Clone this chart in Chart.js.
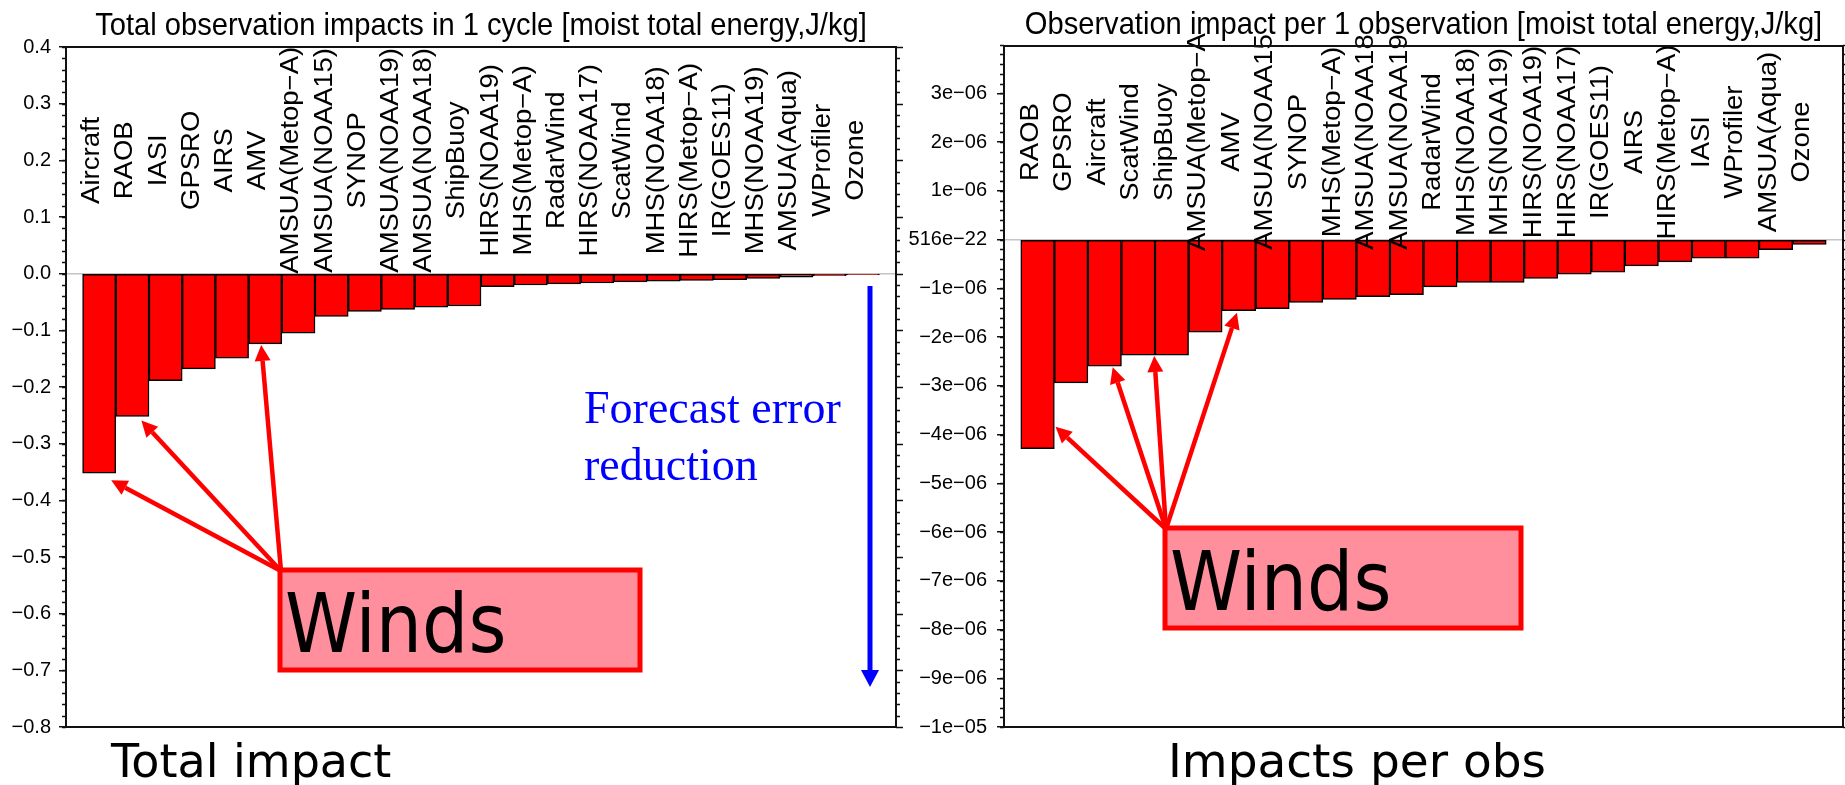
<!DOCTYPE html>
<html>
<head>
<meta charset="utf-8">
<title>Observation impacts</title>
<script src="https://cdn.jsdelivr.net/npm/chart.js@4.4.1/dist/chart.umd.min.js"></script>
<style>
  html, body { margin: 0; background: #fff; }
  #page { position: relative; width: 1845px; height: 785px; overflow: hidden; }
  canvas { position: absolute; top: 0; }
  #left { left: 0; }
  #right { left: 905px; }
</style>
</head>
<body>
<div id="page">
  <canvas id="left" width="905" height="785"></canvas>
  <canvas id="right" width="940" height="785"></canvas>
</div>
<script>
// total impact in 1 cycle
const totalNames = ["Aircraft", "RAOB", "IASI", "GPSRO", "AIRS", "AMV", "AMSUA(Metop-A)", "AMSUA(NOAA15)",
  "SYNOP", "AMSUA(NOAA19)", "AMSUA(NOAA18)", "ShipBuoy", "HIRS(NOAA19)", "MHS(Metop-A)", "RadarWind",
  "HIRS(NOAA17)", "ScatWind", "MHS(NOAA18)", "HIRS(Metop-A)", "IR(GOES11)", "MHS(NOAA19)", "AMSUA(Aqua)",
  "WProfiler", "Ozone"]
const totalImpact = [-0.352, -0.252, -0.189, -0.168, -0.149, -0.124, -0.105, -0.0755,
  -0.0667, -0.063, -0.059, -0.057, -0.023, -0.020, -0.018,
  -0.0165, -0.0145, -0.0133, -0.0118, -0.0108, -0.0086, -0.006,
  -0.0037, -0.0017]
const totalTicks = [0.4, 0.3, 0.2, 0.1, 0, -0.1, -0.2, -0.3, -0.4, -0.5, -0.6, -0.7, -0.8]
const totalTickLabels = ["0.4", "0.3", "0.2", "0.1", "0.0", "\u22120.1", "\u22120.2", "\u22120.3",
  "\u22120.4", "\u22120.5", "\u22120.6", "\u22120.7", "\u22120.8"]

// impact per 1 observation
const perObsNames = ["RAOB", "GPSRO", "Aircraft", "ScatWind", "ShipBuoy", "AMSUA(Metop-A", "AMV", "AMSUA(NOAA15",
  "SYNOP", "MHS(Metop-A)", "AMSUA(NOAA18", "AMSUA(NOAA19", "RadarWind", "MHS(NOAA18)", "MHS(NOAA19)",
  "HIRS(NOAA19)", "HIRS(NOAA17)", "IR(GOES11)", "AIRS", "HIRS(Metop-A)", "IASI", "WProfiler",
  "AMSUA(Aqua)", "Ozone"]
const perObsImpact = [-4.29e-6, -2.94e-6, -2.60e-6, -2.37e-6, -2.37e-6, -1.90e-6, -1.46e-6, -1.42e-6,
  -1.29e-6, -1.23e-6, -1.17e-6, -1.13e-6, -0.97e-6, -0.88e-6, -0.88e-6,
  -0.80e-6, -0.71e-6, -0.67e-6, -0.54e-6, -0.46e-6, -0.38e-6, -0.38e-6,
  -0.21e-6, -0.10e-6]
const perObsTicks = [3e-6, 2e-6, 1e-6, 0, -1e-6, -2e-6, -3e-6, -4e-6, -5e-6, -6e-6, -7e-6, -8e-6, -9e-6, -1e-5]
const perObsTickLabels = ["3e\u221206", "2e\u221206", "1e\u221206", "516e\u221222", "\u22121e\u221206",
  "\u22122e\u221206", "\u22123e\u221206", "\u22124e\u221206", "\u22125e\u221206", "\u22126e\u221206",
  "\u22127e\u221206", "\u22128e\u221206", "\u22129e\u221206", "\u22121e\u221205"]

const NCL_FONT = '"Liberation Sans", Arial, sans-serif'

function arrow(ctx, x0, y0, x1, y1, color, w, head, half) {
  const a = Math.atan2(y1 - y0, x1 - x0)
  const bx = x1 - head * Math.cos(a), by = y1 - head * Math.sin(a)
  ctx.strokeStyle = color
  ctx.fillStyle = color
  ctx.lineWidth = w
  ctx.beginPath()
  ctx.moveTo(x0, y0)
  ctx.lineTo(bx, by)
  ctx.stroke()
  ctx.beginPath()
  ctx.moveTo(x1, y1)
  ctx.lineTo(bx + half * Math.sin(a), by - half * Math.cos(a))
  ctx.lineTo(bx - half * Math.sin(a), by + half * Math.cos(a))
  ctx.closePath()
  ctx.fill()
}

function stretchedText(ctx, text, x, y, font, sx, align) {
  ctx.save()
  ctx.font = font
  ctx.textAlign = align || "left"
  ctx.translate(x, y)
  ctx.scale(sx, 1)
  ctx.fillText(text, 0, 0)
  ctx.restore()
}

// frame, minor ticks, bar names, title and the slide notes
const nclPlugin = {
  id: "ncl",
  afterDatasetsDraw(chart, args, o) {
    const { ctx, chartArea: a } = chart
    const x = chart.scales.x, y = chart.scales.y
    ctx.save()
    ctx.fillStyle = "#000"
    ctx.font = "25px " + NCL_FONT
    ctx.textAlign = "center"
    ctx.textBaseline = "alphabetic"
    o.names.forEach((name, i) => {
      ctx.save()
      ctx.translate(x.getPixelForValue(i + 1), y.getPixelForValue(o.labelY))
      ctx.rotate(-Math.PI / 2)
      ctx.scale(1.1, 1)
      ctx.fillText(name.replace("-", "\u2212"), 0, 0)
      ctx.restore()
    })

    ctx.strokeStyle = "#111"
    ctx.lineWidth = 1.5
    ctx.beginPath()
    const n = Math.round((o.yMax - o.yMin) / o.minorStep)
    for (let k = 0; k <= n; k++) {
      const py = Math.round(y.getPixelForValue(o.yMin + k * o.minorStep)) + 0.5
      ctx.moveTo(a.left - 4, py); ctx.lineTo(a.left, py)
      ctx.moveTo(a.right, py); ctx.lineTo(a.right + 4, py)
    }
    y.ticks.forEach(t => {
      const py = Math.round(y.getPixelForValue(t.value)) + 0.5
      ctx.moveTo(a.right, py); ctx.lineTo(a.right + 7, py)
    })
    ctx.stroke()
    ctx.lineWidth = 2
    ctx.strokeRect(a.left, a.top, a.right - a.left, a.bottom - a.top)
    ctx.restore()
  },
  afterDraw(chart, args, o) {
    const { ctx, chartArea: a } = chart
    const x = chart.scales.x, y = chart.scales.y
    const values = chart.data.datasets[0].data
    ctx.save()
    ctx.fillStyle = "#000"
    stretchedText(ctx, o.title, (a.left + a.right) / 2, a.top - 12, "32px " + NCL_FONT, 0.91, "center")

    const b = o.box
    ctx.fillStyle = "#ff8f9c"
    ctx.fillRect(b.x0, b.y0, b.x1 - b.x0, b.y1 - b.y0)
    ctx.strokeStyle = "#ff0000"
    ctx.lineWidth = 5
    ctx.strokeRect(b.x0, b.y0, b.x1 - b.x0, b.y1 - b.y0)
    o.arrows.forEach(ar => {
      const tx = x.getPixelForValue(ar.i + 1) + ar.dx
      const ty = y.getPixelForValue(values[ar.i].y) + ar.dy
      arrow(ctx, b.x0 + 1, b.y0 + 1, tx, ty, "#ff0000", 4.5, 16, 8)
    })
    ctx.fillStyle = "#000"
    stretchedText(ctx, "Winds", b.x0 + 5, b.y0 + 82, '82px "DejaVu Sans", Verdana, sans-serif', 0.89)
    ctx.font = o.caption.size + 'px "DejaVu Sans", Verdana, sans-serif'
    ctx.textAlign = "left"
    ctx.fillText(o.caption.text, o.caption.x, o.caption.y)

    if (o.note) {
      ctx.fillStyle = "#0000ff"
      ctx.font = '46px "Liberation Serif", "Times New Roman", serif'
      o.note.lines.forEach((line, i) => ctx.fillText(line, o.note.x, o.note.y + i * 57))
      const ar = o.note.arrow
      arrow(ctx, ar.x, ar.y0, ar.x, ar.y1, "#0000ff", 5, 17, 9)
    }
    ctx.restore()
  }
}

function makePanel(id, cfg) {
  return new Chart(document.getElementById(id), {
    type: "bar",
    data: {
      datasets: [{
        data: cfg.values.map((v, i) => ({ x: i + 1, y: v })),
        backgroundColor: "#ff0000",
        borderColor: "#000",
        borderWidth: 1.5,
        borderSkipped: false,
        barPercentage: 1,
        categoryPercentage: 1,
      }],
    },
    options: {
      responsive: false,
      animation: false,
      layout: { padding: cfg.padding },
      scales: {
        x: { type: "linear", min: 0, max: cfg.names.length + 1, offset: false, display: false },
        y: {
          min: cfg.yMin,
          max: cfg.yMax,
          afterFit: s => { s.width = cfg.axisWidth },
          afterBuildTicks: s => { s.ticks = cfg.ticks.map(v => ({ value: v })) },
          border: { display: false },
          grid: {
            color: c => (c.tick && c.tick.value === 0 ? "#c4c4c4" : "rgba(0,0,0,0)"),
            lineWidth: 1.5,
            tickColor: "#111",
            tickLength: 7,
            tickWidth: 1.5,
          },
          ticks: {
            color: "#000",
            padding: cfg.tickPadding,
            font: { family: NCL_FONT, size: 20 },
            callback: (v, i) => cfg.tickLabels[i],
          },
        },
      },
      plugins: {
        legend: { display: false },
        tooltip: { enabled: false },
        ncl: {
          names: cfg.names,
          labelY: cfg.labelY,
          yMin: cfg.yMin,
          yMax: cfg.yMax,
          minorStep: cfg.minorStep,
          title: cfg.title,
          box: cfg.box,
          arrows: cfg.arrows,
          caption: cfg.caption,
          note: cfg.note,
        },
      },
    },
    plugins: [nclPlugin],
  })
}

function draw() {
  makePanel("left", {
    names: totalNames,
    values: totalImpact,
    ticks: totalTicks,
    tickLabels: totalTickLabels,
    yMin: -0.8,
    yMax: 0.4,
    minorStep: 0.02,
    labelY: 0.2,
    axisWidth: 66,
    tickPadding: 8,
    padding: { top: 47, bottom: 58, left: 0, right: 9 },
    title: "Total observation impacts in 1 cycle [moist total energy,J/kg]",
    box: { x0: 280, y0: 570, x1: 640, y1: 670 },
    arrows: [{ i: 0, dx: 12, dy: 7 }, { i: 1, dx: 9, dy: 4 }, { i: 5, dx: -4, dy: 1 }],
    caption: { text: "Total impact", x: 111, y: 777, size: 46 },
    note: { lines: ["Forecast error", "reduction"], x: 584, y: 423, arrow: { x: 870, y0: 286, y1: 687 } },
  })
  makePanel("right", {
    names: perObsNames,
    values: perObsImpact,
    ticks: perObsTicks,
    tickLabels: perObsTickLabels,
    yMin: -1e-5,
    yMax: 3.97e-6,
    minorStep: 0.2e-6,
    labelY: 2e-6,
    axisWidth: 99,
    tickPadding: 10,
    padding: { top: 46, bottom: 58, left: 0, right: 2 },
    title: "Observation impact per 1 observation [moist total energy,J/kg]",
    box: { x0: 260, y0: 528, x1: 616, y1: 628 },
    arrows: [{ i: 0, dx: 18, dy: -22 }, { i: 2, dx: 8, dy: 1 }, { i: 3, dx: 16, dy: 1 }, { i: 6, dx: -2, dy: 2 }],
    caption: { text: "Impacts per obs", x: 263, y: 777, size: 47 },
    note: null,
  })
}

const fonts = ["25px " + NCL_FONT, '82px "DejaVu Sans"', '46px "Liberation Serif"']
Promise.all(fonts.map(f => document.fonts.load(f))).then(draw, draw)
</script>
</body>
</html>
